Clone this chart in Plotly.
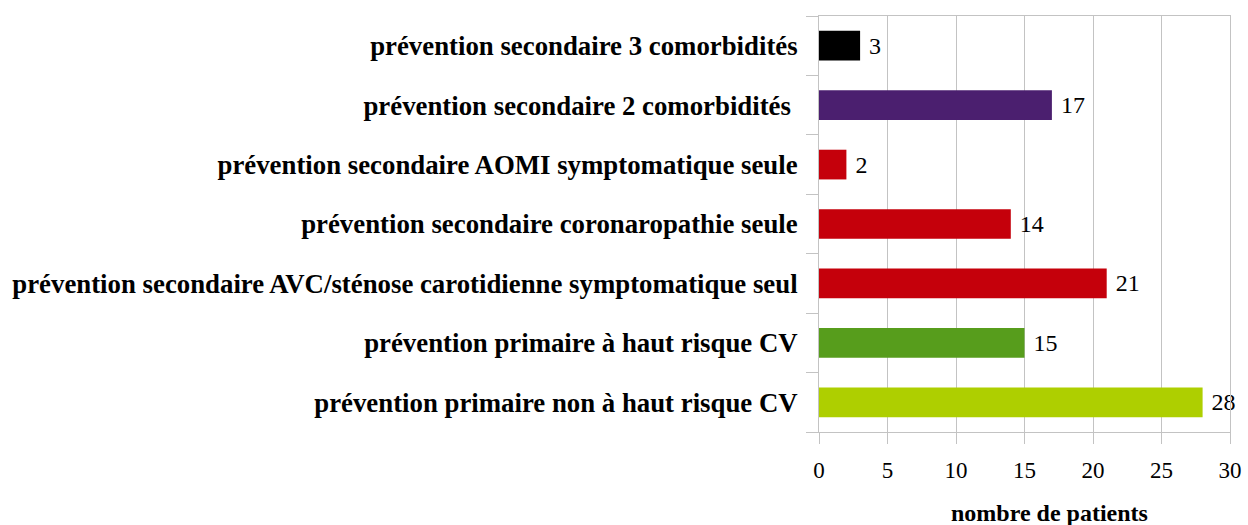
import plotly.graph_objects as go

categories = [
    "prévention primaire non à haut risque CV",
    "prévention primaire à haut risque CV",
    "prévention secondaire AVC/sténose carotidienne symptomatique seul",
    "prévention secondaire coronaropathie seule",
    "prévention secondaire AOMI symptomatique seule",
    "prévention secondaire 2 comorbidités\u00a0",
    "prévention secondaire 3 comorbidités",
]
values = [28, 15, 21, 14, 2, 17, 3]
colors = ["#aecf00", "#579d1c", "#c5000b", "#c5000b", "#c5000b", "#4b1f6f", "#000000"]
x_ticks = [0, 5, 10, 15, 20, 25, 30]

FONT = "Liberation Serif"
GRID = "#c3c3c3"

fig = go.Figure(go.Bar(
    y=categories, x=values, orientation="h",
    marker=dict(color=colors, line=dict(width=0)),
    text=["\u00a0" + str(v) for v in values], textposition="outside",
    textfont=dict(family=FONT, size=24, color="black"),
    cliponaxis=False,
))

fig.update_layout(
    width=1248, height=525,
    margin=dict(l=819, r=18, t=16, b=93, autoexpand=False),
    plot_bgcolor="white", paper_bgcolor="white",
    bargap=0.5, showlegend=False,
    font=dict(family=FONT, color="black"),
    xaxis=dict(
        range=[0, 30], tickvals=x_ticks, ticktext=[str(t) for t in x_ticks],
        showgrid=True, gridcolor=GRID, gridwidth=1, automargin=False,
        zeroline=False, showline=True, linecolor=GRID, mirror=True,
        ticks="outside", ticklen=11, tickcolor=GRID,
        tickfont=dict(family=FONT, size=23, color="black"),
        ticklabelstandoff=6,
    ),
    yaxis=dict(
        type="category", categoryorder="array", categoryarray=categories,
        showgrid=False, zeroline=False, showline=True, linecolor=GRID, mirror=True,
        automargin=False,
        ticks="outside", ticklen=12, tickcolor=GRID, tickson="boundaries",
        tickfont=dict(family=FONT, size=26.8, color="black", weight="bold"),
        ticklabelstandoff=15,
    ),
    annotations=[dict(
        text="<b>nombre de patients</b>", xref="paper", yref="paper",
        x=0.56, y=0, yshift=-81, xanchor="center", yanchor="middle",
        showarrow=False, font=dict(family=FONT, size=24, color="black"),
    )],
)

fig.write_html(
    "out.html",
    config={"displayModeBar": False},
    post_script="document.body.style.margin='0';document.body.style.overflow='hidden';"
                "document.documentElement.style.overflow='hidden';",
)
